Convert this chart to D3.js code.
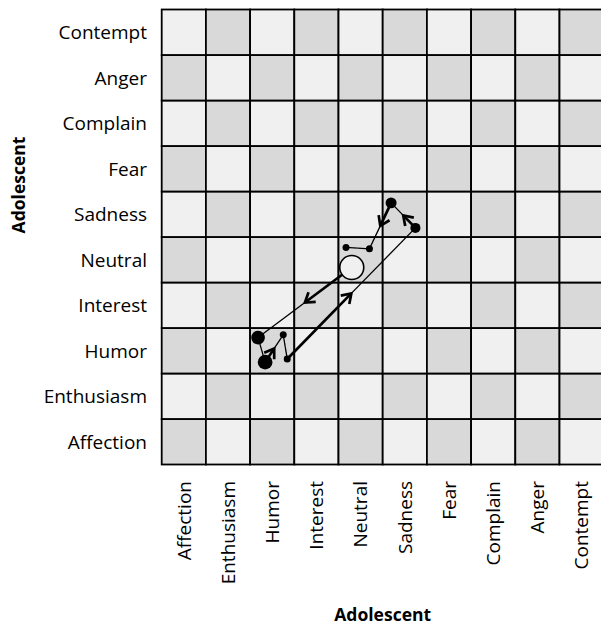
<!DOCTYPE html>
<meta charset="utf-8">
<style>
body { margin: 0; background: #fff; }
svg { display: block; }
.tick-label { font-family: "Open Sans", sans-serif; font-size: 19px; fill: #000; }
.axis-title { font-family: "Open Sans", sans-serif; font-size: 17.5px; font-weight: bold; fill: #000; }
</style>
<body>
<script src="https://cdn.jsdelivr.net/npm/d3@7"></script>
<script>

var width = 601,
    height = 626;

// emotion states, same order on both axes
var xStates = ["Affection", "Enthusiasm", "Humor", "Interest", "Neutral",
               "Sadness", "Fear", "Complain", "Anger", "Contempt"];
var yStates = ["Affection", "Enthusiasm", "Humor", "Interest", "Neutral",
               "Sadness", "Fear", "Complain", "Anger", "Contempt"];

// trajectory: cell of each event, place inside the cell (0..1 from left / bottom)
var stepX = ["Neutral", "Humor", "Humor", "Humor", "Humor", "Sadness", "Sadness", "Neutral", "Neutral"];
var stepY = ["Neutral", "Humor", "Humor", "Humor", "Humor", "Sadness", "Sadness", "Neutral", "Neutral"];
var offX = [0.30, 0.18, 0.34, 0.75, 0.84, 0.74, 0.19, 0.70, 0.17];
var offY = [0.33, 0.79, 0.25, 0.85, 0.32, 0.20, 0.75, 0.74, 0.77];
// duration of each event (node size)
var durations = [20, 6.5, 7.5, 1.7, 1.7, 3.5, 4.2, 1.7, 1.7];
// transitions that carry an arrowhead
var arrowed = [true, false, true, false, true, true, true, false];

var svg = d3.select("body").append("svg")
    .attr("width", width)
    .attr("height", height);

var x = d3.scaleBand()
    .domain(xStates)
    .range([161.7, 603.7]);

var y = d3.scaleBand()
    .domain(yStates.slice().reverse())
    .range([9.5, 464.5]);

var r = d3.scaleSqrt()
    .domain([0, 20])
    .range([0, 12]);

// checkerboard cells
var cells = [];
xStates.forEach(function(cx, i) {
    yStates.forEach(function(cy, j) {
        cells.push({x: cx, y: cy, dark: (i + j) % 2 === 0});
    });
});

svg.append("g")
    .selectAll("rect")
    .data(cells)
    .enter()
    .append("rect")
    .attr("x", function(d) { return x(d.x); })
    .attr("y", function(d) { return y(d.y); })
    .attr("width", x.bandwidth())
    .attr("height", y.bandwidth())
    .attr("fill", function(d) { return d.dark ? "#d9d9d9" : "#f0f0f0"; })
    .attr("stroke", "#000")
    .attr("stroke-width", 1.8);

// y labels
svg.append("g")
    .selectAll("text")
    .data(yStates)
    .enter()
    .append("text")
    .attr("class", "tick-label")
    .attr("x", 147)
    .attr("y", function(d) { return y(d) + y.bandwidth() / 2; })
    .attr("dy", "0.36em")
    .attr("text-anchor", "end")
    .text(function(d) { return d; });

// x labels, rotated
svg.append("g")
    .selectAll("text")
    .data(xStates)
    .enter()
    .append("text")
    .attr("class", "tick-label")
    .attr("transform", function(d) {
        return "translate(" + (x(d) + x.bandwidth() / 2) + ",481) rotate(-90)";
    })
    .attr("dy", "0.36em")
    .attr("text-anchor", "end")
    .text(function(d) { return d; });

svg.append("text")
    .attr("class", "axis-title")
    .attr("x", x.range()[0] + 221)
    .attr("y", 621)
    .attr("text-anchor", "middle")
    .text("Adolescent");

svg.append("text")
    .attr("class", "axis-title")
    .attr("transform", "translate(25,185) rotate(-90)")
    .attr("text-anchor", "middle")
    .text("Adolescent");

// node positions
var nodes = stepX.map(function(sx, i) {
    return {
        px: x(sx) + offX[i] * x.bandwidth(),
        py: y(stepY[i]) + (1 - offY[i]) * y.bandwidth(),
        r: r(durations[i]),
        first: i === 0
    };
});

var links = d3.pairs(nodes).map(function(p, i) {
    var a = p[0], b = p[1];
    return {a: a, b: b, mx: (a.px + b.px) / 2, my: (a.py + b.py) / 2, arrow: arrowed[i]};
});

var lines = svg.append("g").attr("fill", "none").attr("stroke", "#000");

// first half thick, second half thin
lines.selectAll(".thick")
    .data(links)
    .enter()
    .append("path")
    .attr("stroke-width", function(d) { return d.arrow ? 2.7 : 1.3; })
    .attr("d", function(d) { return "M" + [d.a.px, d.a.py] + "L" + [d.mx, d.my]; });

lines.selectAll(".thin")
    .data(links)
    .enter()
    .append("path")
    .attr("stroke-width", 1.3)
    .attr("d", function(d) { return "M" + [d.mx, d.my] + "L" + [d.b.px, d.b.py]; });

// open arrowheads at the middle of each transition
lines.selectAll(".head")
    .data(links.filter(function(d) { return d.arrow; }))
    .enter()
    .append("path")
    .attr("stroke-width", 2.7)
    .attr("stroke-linejoin", "miter")
    .attr("transform", function(d) {
        var ang = Math.atan2(d.b.py - d.a.py, d.b.px - d.a.px) * 180 / Math.PI;
        return "translate(" + d.mx + "," + d.my + ") rotate(" + ang + ")";
    })
    .attr("d", "M-9,-6L0,0L-9,6");

// nodes
svg.append("g")
    .selectAll("circle")
    .data(nodes)
    .enter()
    .append("circle")
    .attr("cx", function(d) { return d.px; })
    .attr("cy", function(d) { return d.py; })
    .attr("r", function(d) { return d.r; })
    .attr("fill", function(d) { return d.first ? "#f0f0f0" : "#000"; })
    .attr("stroke", "#000")
    .attr("stroke-width", function(d) { return d.first ? 1.6 : 0; });

</script>
